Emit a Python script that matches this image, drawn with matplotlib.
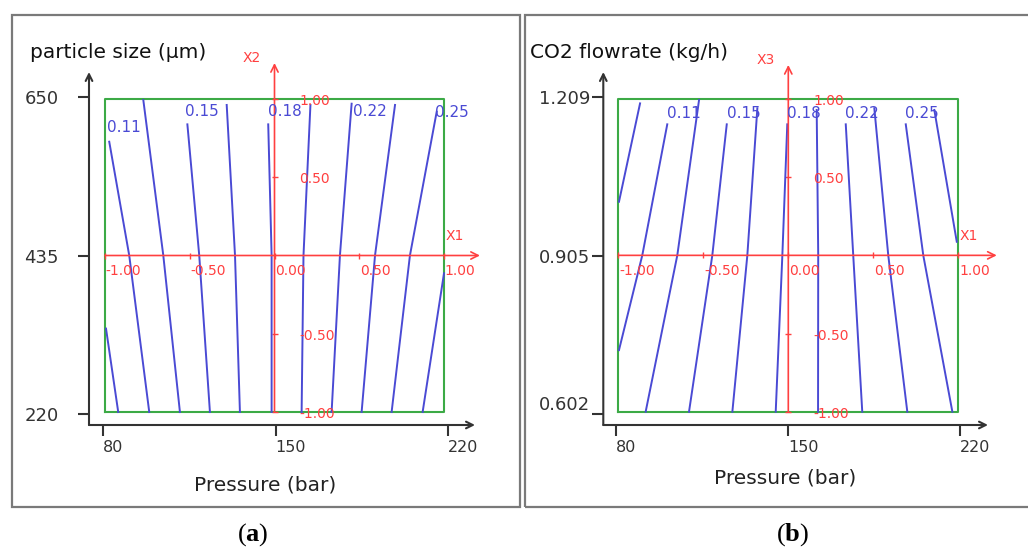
import matplotlib.pyplot as plt
from matplotlib.patches import Rectangle

plt.rcParams['font.family'] = ['DejaVu Sans']
plt.rcParams['mathtext.fontset'] = 'custom'
plt.rcParams['mathtext.rm'] = 'Liberation Serif'
plt.rcParams['mathtext.bf'] = 'Liberation Serif:bold'

W, H = 1028, 547

# ---- data ----
pressure_ticks = [80, 150, 220]
size_ticks = [220, 435, 650]
flow_ticks = [0.602, 0.905, 1.209]
flow_tick_labels = ['0.602', '0.905', '1.209']
coded_x_ticks = [-1.0, -0.5, 0.0, 0.5, 1.0]
coded_x_labels = ['-1.00', '-0.50', '0.00', '0.50', '1.00']
coded_y_ticks = [1.0, 0.5, -0.5, -1.0]
coded_y_labels = ['1.00', '0.50', '-0.50', '-1.00']
level_labels = ['0.11', '0.15', '0.18', '0.22', '0.25']

# contour lines, panel (a): coded X1 (pressure) vs X2 (particle size)
lines_a_x = [[-0.994, -0.922],
             [-0.975, -0.857, -0.739],
             [-0.774, -0.656, -0.558],
             [-0.514, -0.444, -0.381],
             [-0.282, -0.233, -0.204],
             [-0.037, -0.017, -0.017],
             [0.212, 0.171, 0.160],
             [0.455, 0.386, 0.337],
             [0.711, 0.593, 0.514],
             [0.957, 0.799, 0.691],
             [1.0, 0.874]]
lines_a_y = [[-0.467, -1.0],
             [0.727, 0.0, -1.0],
             [0.994, 0.0, -1.0],
             [0.838, 0.0, -1.0],
             [0.962, 0.0, -1.0],
             [0.838, 0.0, -1.0],
             [0.962, 0.0, -1.0],
             [0.970, 0.0, -1.0],
             [0.962, 0.0, -1.0],
             [0.919, 0.0, -1.0],
             [-0.114, -1.0]]

# contour lines, panel (b): coded X1 (pressure) vs X3 (CO2 flowrate)
lines_b_x = [[-0.872, -0.996],
             [-0.712, -0.859, -0.996],
             [-0.525, -0.653, -0.839],
             [-0.362, -0.447, -0.584],
             [-0.182, -0.241, -0.329],
             [-0.006, -0.035, -0.074],
             [0.167, 0.176, 0.175],
             [0.338, 0.382, 0.435],
             [0.506, 0.588, 0.700],
             [0.691, 0.794, 0.965],
             [0.859, 0.991]]
lines_b_y = [[0.972, 0.343],
             [0.838, 0.0, -0.606],
             [0.994, 0.0, -1.0],
             [0.838, 0.0, -1.0],
             [0.941, 0.0, -1.0],
             [0.838, 0.0, -1.0],
             [0.930, 0.0, -1.0],
             [0.838, 0.0, -1.0],
             [0.941, 0.0, -1.0],
             [0.838, 0.0, -1.0],
             [0.930, 0.087]]

# where the level labels sit (coded units)
label_pos_a = [(-0.988, 0.815), (-0.528, 0.917), (-0.038, 0.917), (0.463, 0.917), (0.947, 0.911)]
label_pos_b = [(-0.715, 0.910), (-0.362, 0.910), (-0.009, 0.910), (0.334, 0.910), (0.686, 0.910)]

BLUE = '#4a4ad4'
RED = '#ff4040'
GREEN = '#3caa46'
DARK = '#333333'

fig = plt.figure(figsize=(W / 100, H / 100), dpi=100)


def fx(px):
    return px / W


def fy(py):
    return 1 - py / H


def lim_from(p_a, p_b, v1, p1, v2, p2):
    # value at pixel p_a and p_b for a linear map v1->p1, v2->p2
    k = (v2 - v1) / (p2 - p1)
    return v1 + (p_a - p1) * k, v1 + (p_b - p1) * k


def black_axes(x0, x1, ytop, ybot, xt, xt_px, yt, yt_px, ylabels, ypad):
    ax = fig.add_axes([fx(x0), fy(ybot), fx(x1) - fx(x0), fy(ytop) - fy(ybot)])
    ax.set_xlim(*lim_from(x0, x1, xt[0], xt_px[0], xt[-1], xt_px[-1]))
    ax.set_ylim(*lim_from(ybot, ytop, yt[0], yt_px[0], yt[-1], yt_px[-1]))
    ax.patch.set_alpha(0)
    for s in ax.spines.values():
        s.set_visible(False)
    ax.set_xticks(xt)
    ax.set_xticklabels([str(v) for v in xt])
    ax.set_yticks(yt)
    ax.set_yticklabels(ylabels)
    ax.tick_params(direction='out', length=8, width=1.5, color=DARK, labelcolor=DARK)
    ax.tick_params(axis='x', labelsize=11.5, pad=3)
    ax.tick_params(axis='y', labelsize=13, pad=ypad)
    plt.setp(ax.get_xticklabels(), ha='left')
    arrow = dict(arrowstyle='->', color=DARK, lw=1.5, shrinkA=0, shrinkB=0, mutation_scale=12)
    ax.annotate('', xy=(1, 0), xytext=(0, 0), xycoords='axes fraction', arrowprops=arrow)
    ax.annotate('', xy=(0, 1), xytext=(0, 0), xycoords='axes fraction', arrowprops=arrow)
    return ax


def coded_axes(left, top, right, bottom, lx, ly, lpos, xend, yend, yname, yname_pos):
    ax = fig.add_axes([fx(left), fy(bottom), fx(right) - fx(left), fy(top) - fy(bottom)])
    ax.set_xlim(-1, 1)
    ax.set_ylim(-1, 1)
    ax.axis('off')
    ax.plot([-1, 1, 1, -1, -1], [-1, -1, 1, 1, -1], color=GREEN, lw=1.5, clip_on=False)
    red_arrow = dict(arrowstyle='->', color=RED, lw=1.2, shrinkA=0, shrinkB=0, mutation_scale=13)
    ax.annotate('', xy=(xend, 0), xytext=(-1, 0), arrowprops=red_arrow, annotation_clip=False)
    ax.annotate('', xy=(0, yend), xytext=(0, -1), arrowprops=red_arrow, annotation_clip=False)
    ax.plot(coded_x_ticks, [0] * len(coded_x_ticks), ls='none', marker='|', ms=4, color=RED, clip_on=False)
    ax.plot([0] * len(coded_y_ticks), coded_y_ticks, ls='none', marker='_', ms=4, color=RED, clip_on=False)
    for t, s in zip(coded_x_ticks, coded_x_labels):
        ax.annotate(s, xy=(t, 0), xytext=(0.5, -11), textcoords='offset points',
                    ha='left', va='center', color=RED, fontsize=10, annotation_clip=False)
    for t, s in zip(coded_y_ticks, coded_y_labels):
        ax.annotate(s, xy=(0, t), xytext=(18, -1.5), textcoords='offset points',
                    ha='left', va='center', color=RED, fontsize=10, annotation_clip=False)
    ax.text(1.008, 0.125, 'X1', color=RED, fontsize=10, ha='left', va='center', clip_on=False)
    ax.text(yname_pos[0], yname_pos[1], yname, color=RED, fontsize=10, ha='left', va='center', clip_on=False)
    for xs, ys in zip(lx, ly):
        ax.plot(xs, ys, color=BLUE, lw=1.4, clip_on=False)
    for (x, y), s in zip(lpos, level_labels):
        ax.text(x, y, s, color=BLUE, fontsize=11, ha='left', va='center', clip_on=False)
    return ax


# ---- panel (a) ----
black_axes(89, 475, 72, 425, pressure_ticks, [103, 448], size_ticks, [414, 97],
           [str(v) for v in size_ticks], 14)
coded_axes(105, 99, 444, 412, lines_a_x, lines_a_y, label_pos_a, 1.212, 1.23, 'X2', (-0.186, 1.262))
fig.text(fx(30), fy(52), 'particle size (\u03bcm)', fontsize=14.5, ha='left', va='center', color='#111111')
fig.text(fx(265.5), fy(485), 'Pressure (bar)', fontsize=14.5, ha='center', va='center', color='#222222')

# ---- panel (b) ----
ax_b = black_axes(603.3, 988, 72, 425, pressure_ticks, [615.7, 960], flow_ticks, [414, 97],
                  flow_tick_labels, 1.5)
ax_b.get_yticklabels()[0].set_va('bottom')
coded_axes(618.3, 99, 958.3, 411.7, lines_b_x, lines_b_y, label_pos_b, 1.226, 1.218, 'X3', (-0.184, 1.249))
fig.text(fx(530), fy(52), 'CO2 flowrate (kg/h)', fontsize=14.5, ha='left', va='center', color='#111111')
fig.text(fx(785.5), fy(478), 'Pressure (bar)', fontsize=14.5, ha='center', va='center', color='#222222')

# frames and captions
fig.add_artist(Rectangle((fx(12), fy(507)), fx(520) - fx(12), fy(15) - fy(507),
                         transform=fig.transFigure, fill=False, ec='#7a7a7a', lw=1.6))
fig.add_artist(Rectangle((fx(525), fy(507)), fx(1040) - fx(525), fy(15) - fy(507),
                         transform=fig.transFigure, fill=False, ec='#7a7a7a', lw=1.6))
fig.text(fx(253), fy(535), r'($\mathbf{a}$)', fontsize=19, family='Liberation Serif', ha='center', va='center')
fig.text(fx(793), fy(535), r'($\mathbf{b}$)', fontsize=19, family='Liberation Serif', ha='center', va='center')

fig.savefig('out.png', dpi=100)
